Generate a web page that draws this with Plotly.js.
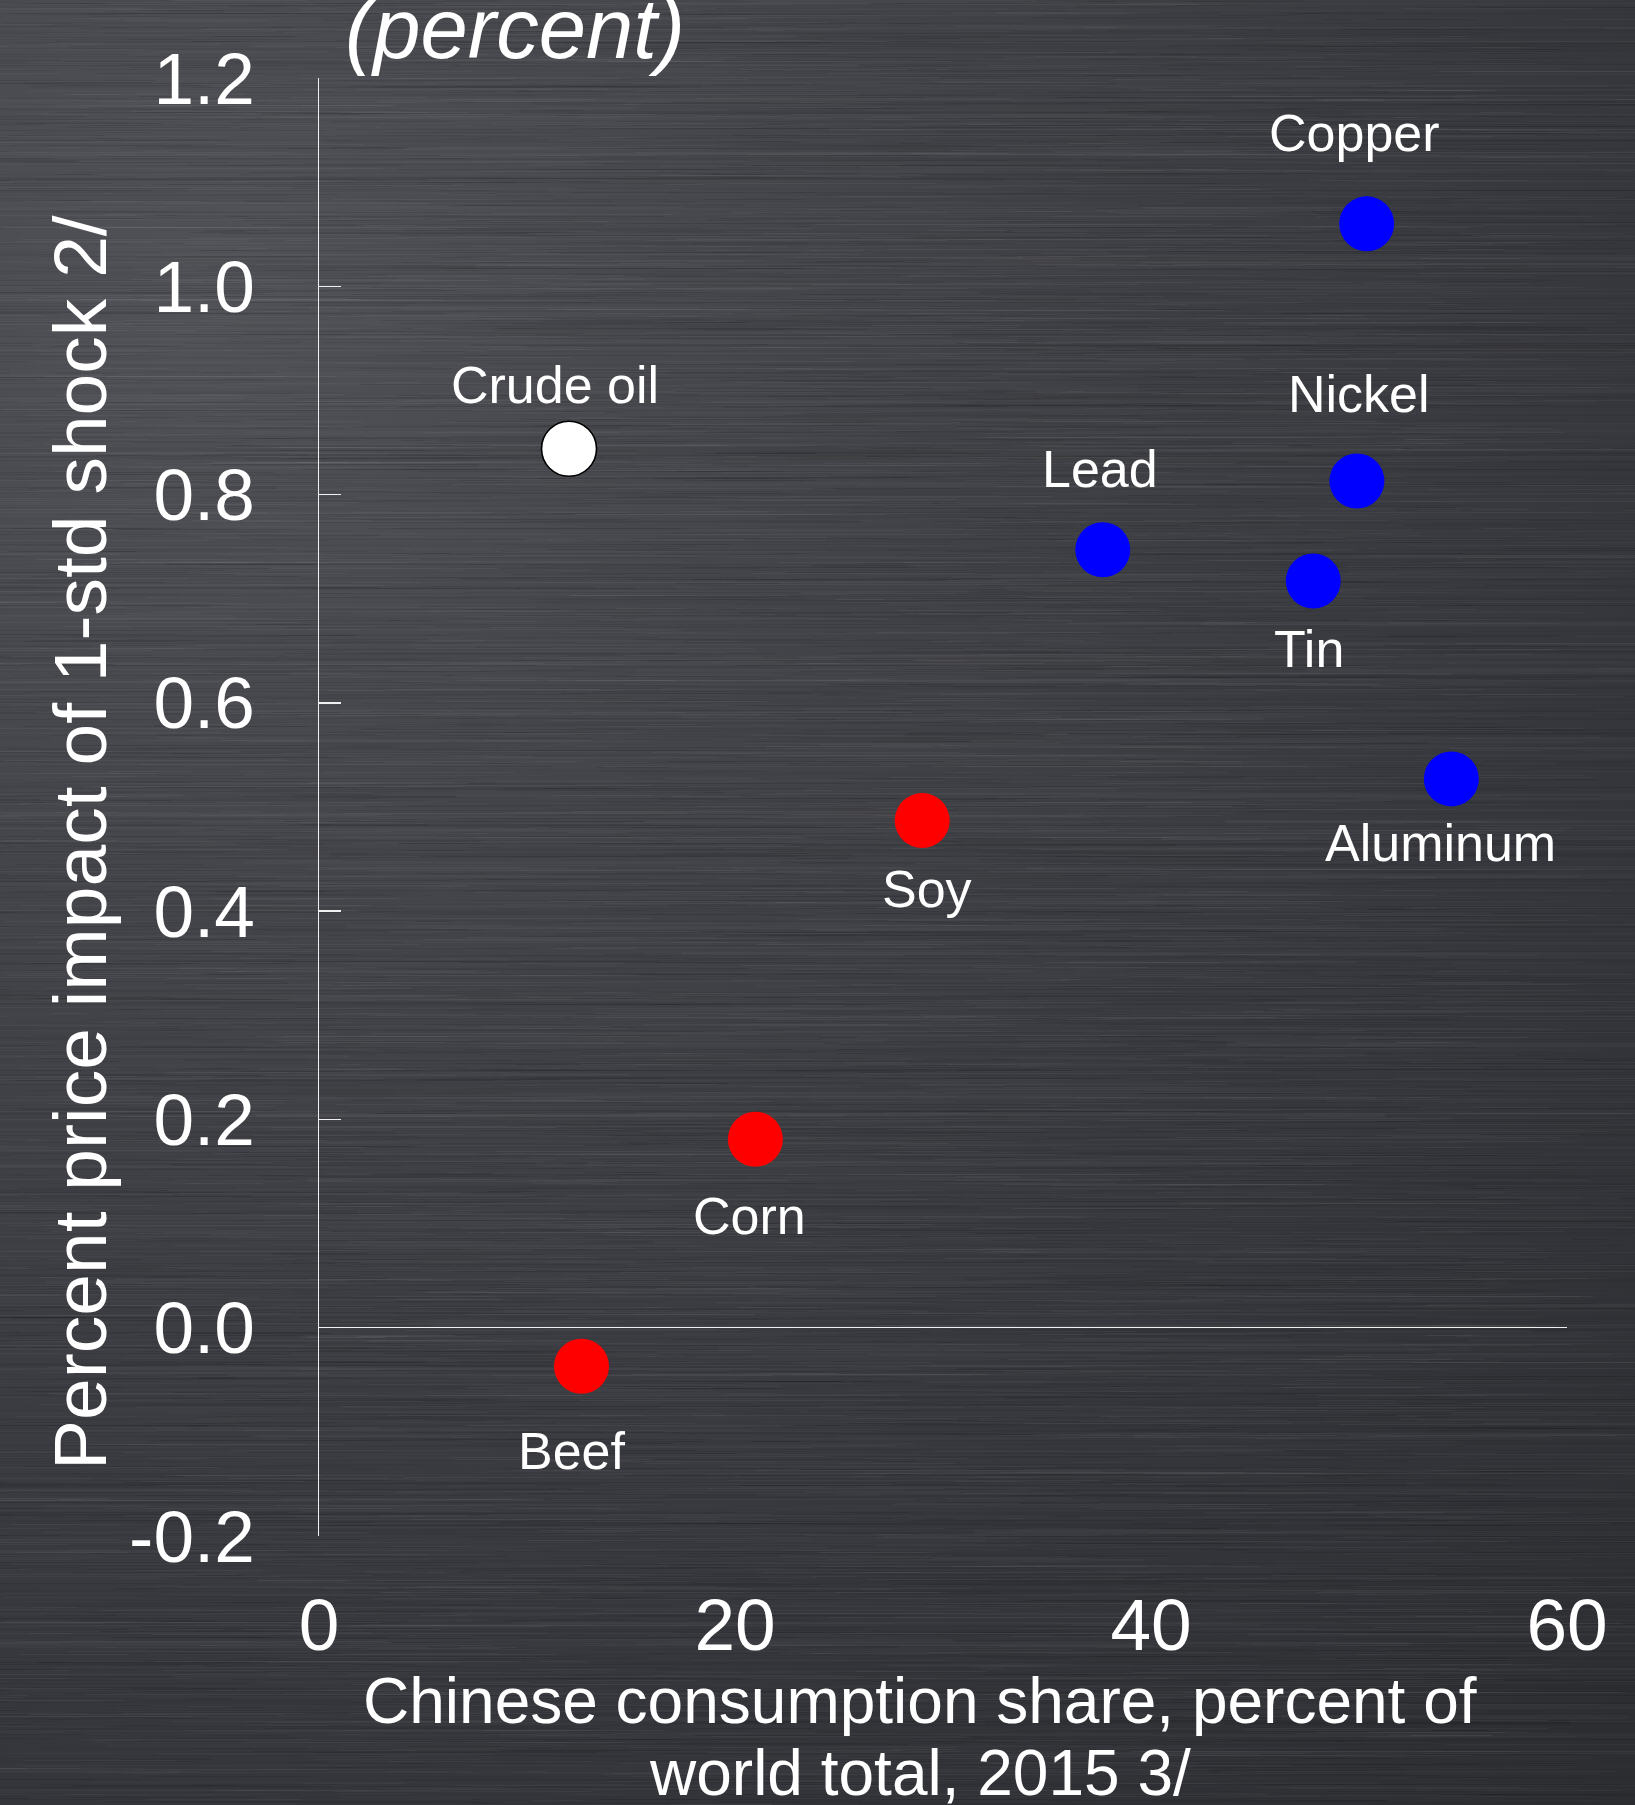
<!DOCTYPE html>
<html>
<head>
<meta charset="utf-8">
<script src="https://cdn.plot.ly/plotly-3.0.1.min.js"></script>
<style>
  html, body { margin: 0; padding: 0; background: #3a3b40; }
  #wrap { position: relative; width: 1635px; height: 1805px; overflow: hidden; }
  #metal { position: absolute; left: 0; top: 0; }
  #chart { position: absolute; left: 0; top: 0; width: 1635px; height: 1805px; }
</style>
</head>
<body>
<div id="wrap">
  <canvas id="metal" width="1635" height="1805"></canvas>
  <div id="chart"></div>
</div>
<script>
// Commodities: Chinese share of world consumption (2015) vs. price impact of a 1-std shock
const commodities = ['Copper', 'Nickel', 'Lead', 'Tin', 'Aluminum', 'Soy', 'Corn', 'Beef', 'Crude oil'];
const groups      = ['metal', 'metal', 'metal', 'metal', 'metal', 'food', 'food', 'food', 'energy'];
const chinaShare  = [50.37, 49.90, 37.68, 47.80, 54.44, 29.00, 20.98, 12.62, 12.02];
const priceImpact = [1.060, 0.813, 0.747, 0.717, 0.527, 0.487, 0.181, -0.037, 0.844];

const xTickVals = [0, 20, 40, 60];
const xTickText = ['0', '20', '40', '60'];
const yTickVals = [-0.2, 0, 0.2, 0.4, 0.6, 0.8, 1.0, 1.2];
const yTickText = ['-0.2', '0.0', '0.2', '0.4', '0.6', '0.8', '1.0', '1.2'];

// Label placement: pixel offset of each label's centre from its marker (positive dy = below)
const labelDx = [-12, 2, -3, -4, -11, 5, -6, -10, -14];
const labelDy = [-91, -87, -81, 68, 64, 68, 77, 85, -64];

const FONT = '"Liberation Sans", Arial, Helvetica, sans-serif';
const W = 1635, H = 1805;

// ---- brushed-metal backdrop ----
(function drawMetal() {
  const cv = document.getElementById('metal');
  const ctx = cv.getContext('2d');
  const g = ctx.createRadialGradient(200, 300, 0, 200, 300, 2200);
  g.addColorStop(0.0, '#515257');
  g.addColorStop(0.3, '#434449');
  g.addColorStop(0.65, '#36373c');
  g.addColorStop(1.0, '#2a2b2f');
  ctx.fillStyle = g;
  ctx.fillRect(0, 0, W, H);

  let seed = 20151;
  function rnd() {
    seed = (seed * 1664525 + 1013904223) >>> 0;
    return seed / 4294967296;
  }
  // broad faint bands
  for (let i = 0; i < 350; i++) {
    const y = Math.floor(rnd() * H);
    const h = 1 + Math.floor(rnd() * 4);
    const light = rnd() < 0.5;
    const a = 0.008 + rnd() * 0.022;
    ctx.fillStyle = light ? 'rgba(255,255,255,' + a + ')' : 'rgba(0,0,0,' + (a * 1.6) + ')';
    ctx.fillRect(rnd() * W - 300, y, 300 + rnd() * 1400, h);
  }
  // fine streaks
  for (let i = 0; i < 11000; i++) {
    const y = Math.floor(rnd() * H);
    const x = rnd() * W - 150;
    const len = 20 + rnd() * 380;
    const light = rnd() < 0.45;
    const a = light ? 0.01 + rnd() * 0.035 : 0.02 + rnd() * 0.07;
    ctx.fillStyle = light ? 'rgba(255,255,255,' + a + ')' : 'rgba(0,0,0,' + a + ')';
    ctx.fillRect(x, y, len, 1);
  }
})();

// ---- chart ----
function pick(arr, grp) { return arr.filter((_, i) => groups[i] === grp); }

const traces = [
  { grp: 'metal', color: '#0000ff', line: { width: 0 } },
  { grp: 'food', color: '#ff0000', line: { width: 0 } },
  { grp: 'energy', color: '#ffffff', line: { width: 1.6, color: '#000000' } }
].map(s => ({
  type: 'scatter',
  mode: 'markers',
  name: s.grp,
  x: pick(chinaShare, s.grp),
  y: pick(priceImpact, s.grp),
  text: pick(commodities, s.grp),
  hoverinfo: 'text+x+y',
  marker: { size: 55, color: s.color, line: s.line, opacity: 1 },
  showlegend: false,
  cliponaxis: false
}));

const labelNotes = commodities.map((name, i) => ({
  x: chinaShare[i], y: priceImpact[i], xref: 'x', yref: 'y',
  text: name, showarrow: false,
  xanchor: 'center', yanchor: 'middle',
  xshift: labelDx[i], yshift: -labelDy[i],
  font: { family: FONT, size: 52, color: '#ffffff' }
}));

const titleNotes = [
  { // y-axis title
    text: 'Percent price impact of 1-std shock 2/',
    xref: 'paper', yref: 'paper', x: 0, y: 0.5,
    xshift: -239, yshift: -36, textangle: -90,
    xanchor: 'center', yanchor: 'middle', showarrow: false,
    font: { family: FONT, size: 75, color: '#ffffff' }
  },
  { // x-axis title, first line
    text: 'Chinese consumption share, percent of',
    xref: 'paper', yref: 'paper', x: 0.4813, y: 0,
    yshift: -165, xanchor: 'center', yanchor: 'middle', showarrow: false,
    font: { family: FONT, size: 64, color: '#ffffff' }
  },
  { // x-axis title, second line
    text: 'world total, 2015 3/',
    xref: 'paper', yref: 'paper', x: 0.4813, y: 0,
    yshift: -237, xanchor: 'center', yanchor: 'middle', showarrow: false,
    font: { family: FONT, size: 64, color: '#ffffff' }
  }
];

const axisLine = '#f0f0f0';

const layout = {
  width: W, height: H,
  margin: { l: 319, r: 68, t: 78, b: 269, pad: 0 },
  paper_bgcolor: 'rgba(0,0,0,0)',
  plot_bgcolor: 'rgba(0,0,0,0)',
  font: { family: FONT, color: '#ffffff' },
  title: {
    text: '(percent)',
    font: { family: FONT, size: 85, style: 'italic', color: '#ffffff' },
    xref: 'container', yref: 'container',
    x: 345 / W, xanchor: 'left',
    y: 1 - 28 / H, yanchor: 'middle'
  },
  xaxis: {
    range: [0, 60],
    tickmode: 'array', tickvals: xTickVals, ticktext: xTickText,
    showline: false, showgrid: false, zeroline: false, ticks: '',
    tickfont: { family: FONT, size: 73, color: '#ffffff' },
    ticklabelstandoff: 40,
    fixedrange: true
  },
  yaxis: {
    range: [-0.2, 1.2],
    tickmode: 'array', tickvals: yTickVals, ticktext: yTickText,
    showline: true, linecolor: axisLine, linewidth: 1.5,
    ticks: 'inside', ticklen: 22, tickwidth: 1.5, tickcolor: axisLine,
    showgrid: false,
    zeroline: true, zerolinecolor: '#f0f0f0', zerolinewidth: 1.5,
    tickfont: { family: FONT, size: 73, color: '#ffffff' },
    ticklabelstandoff: 48,
    fixedrange: true
  },
  annotations: labelNotes.concat(titleNotes),
  showlegend: false,
  hovermode: 'closest'
};

Plotly.newPlot('chart', traces, layout, { displayModeBar: false, staticPlot: true });
</script>
</body>
</html>
